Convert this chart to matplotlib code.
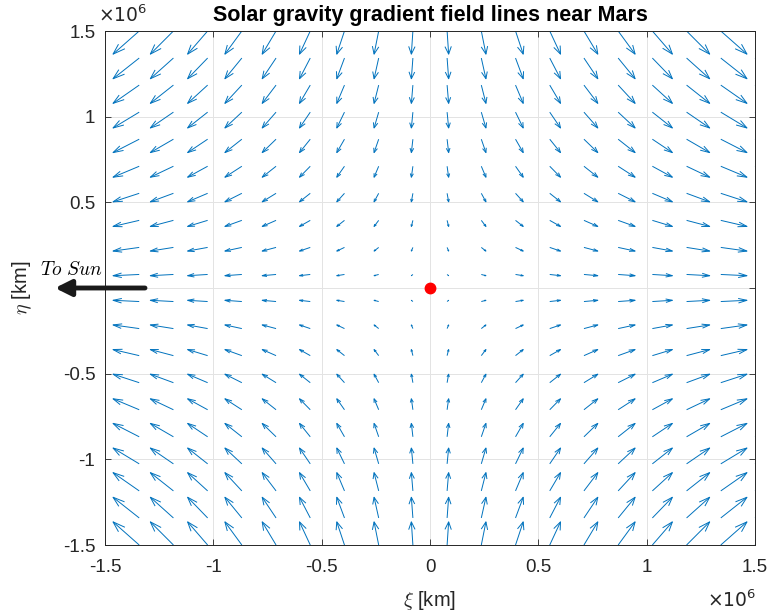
import numpy as np
import matplotlib.pyplot as plt
from matplotlib.collections import LineCollection
from matplotlib.patches import FancyArrowPatch

# grid of the field (km) and gravity-gradient coefficients (d a_xi/d xi, d a_eta/d eta)
xi_km = np.linspace(-1.5e6, 1.5e6, 20)
eta_km = np.linspace(-1.5e6, 1.5e6, 20)
grad_xi = 1.0
grad_eta = -1.0
mars_pos = (0.0, 0.0)

x_ticks = [-1.5e6, -1e6, -0.5e6, 0, 0.5e6, 1e6, 1.5e6]
y_ticks = [-1.5e6, -1e6, -0.5e6, 0, 0.5e6, 1e6, 1.5e6]
x_tick_labels = ['-1.5', '-1', '-0.5', '0', '0.5', '1', '1.5']
# the 0 on the eta axis sits under the "To Sun" arrow
y_tick_labels = ['-1.5', '-1', '-0.5', '', '0.5', '1', '1.5']

plt.rcParams['font.family'] = ['Liberation Sans', 'DejaVu Sans']

X, Y = np.meshgrid(xi_km, eta_km)
U = grad_xi * X
V = grad_eta * Y

# autoscale like matlab quiver
delx = (X.max() - X.min()) / len(xi_km)
dely = (Y.max() - Y.min()) / len(eta_km)
lens = np.sqrt((U**2 + V**2) / (delx**2 + dely**2))
s = 0.9 / lens.max()
U = U * s
V = V * s

a, b = 0.33, 0.33
tx, ty = X + U, Y + V
segs = []
for x0, y0, x1, y1, u, v in zip(X.ravel(), Y.ravel(), tx.ravel(), ty.ravel(), U.ravel(), V.ravel()):
    segs.append([(x0, y0), (x1, y1)])
    segs.append([(x1 - a * (u + b * v), y1 - a * (v - b * u)), (x1, y1),
                 (x1 - a * (u - b * v), y1 - a * (v + b * u))])

fig = plt.figure(figsize=(7.72, 6.16), dpi=100)
ax = fig.add_axes([105 / 772, 1 - 545 / 616, 650 / 772, 514 / 616])

ax.add_collection(LineCollection(segs, colors='#0072BD', linewidths=0.7))
ax.plot(*mars_pos, 'o', color='#FF0000', ms=7.5, zorder=3)

ax.set_xlim(-1.5e6, 1.5e6)
ax.set_ylim(-1.5e6, 1.5e6)
ax.set_xticks(x_ticks)
ax.set_xticklabels(x_tick_labels)
ax.set_yticks(y_ticks)
ax.set_yticklabels(y_tick_labels)
ax.tick_params(direction='in', length=4, width=0.6, labelsize=13.5, colors='#262626',
               top=True, right=True)
ax.tick_params(axis='x', pad=10)
ax.tick_params(axis='y', pad=7)
ax.grid(True, color='#e3e3e3', lw=0.7)
ax.set_axisbelow(True)
for sp in ax.spines.values():
    sp.set_color('#262626')
    sp.set_linewidth(0.7)

ax.set_title('Solar gravity gradient field lines near Mars', fontsize=15.5, fontweight='bold', pad=7)
ax.set_xlabel(r'$\xi$ [km]', fontsize=14.5, color='#262626', math_fontfamily='cm', va='center')
ax.xaxis.set_label_coords(0.5, (545 - 600) / 514)
ax.set_ylabel(r'$\eta$ [km]', fontsize=14.5, color='#262626', math_fontfamily='cm', va='center')
ax.yaxis.set_label_coords((22 - 105) / 650, 0.5)

fig.text(123 / 772, 1 - 15 / 616, r'$\times10^{6}$', fontsize=13.5, color='#262626',
         ha='center', va='center')
fig.text(732 / 772, 1 - 600 / 616, r'$\times10^{6}$', fontsize=13.5, color='#262626',
         ha='center', va='center')

# "To Sun" marker, drawn over the axes
sun_arrow = FancyArrowPatch((145 / 772, 1 - 288 / 616), (55 / 772, 1 - 288 / 616),
                            transform=fig.transFigure, arrowstyle='-|>', lw=3.5,
                            color='#1a1a1a', mutation_scale=24, shrinkA=0, shrinkB=0,
                            zorder=10)
fig.add_artist(sun_arrow)
fig.text(40 / 772, 1 - 270 / 616, r'$To\ Sun$', fontsize=14, math_fontfamily='cm',
         ha='left', va='center')

fig.savefig('out.png', dpi=100)
